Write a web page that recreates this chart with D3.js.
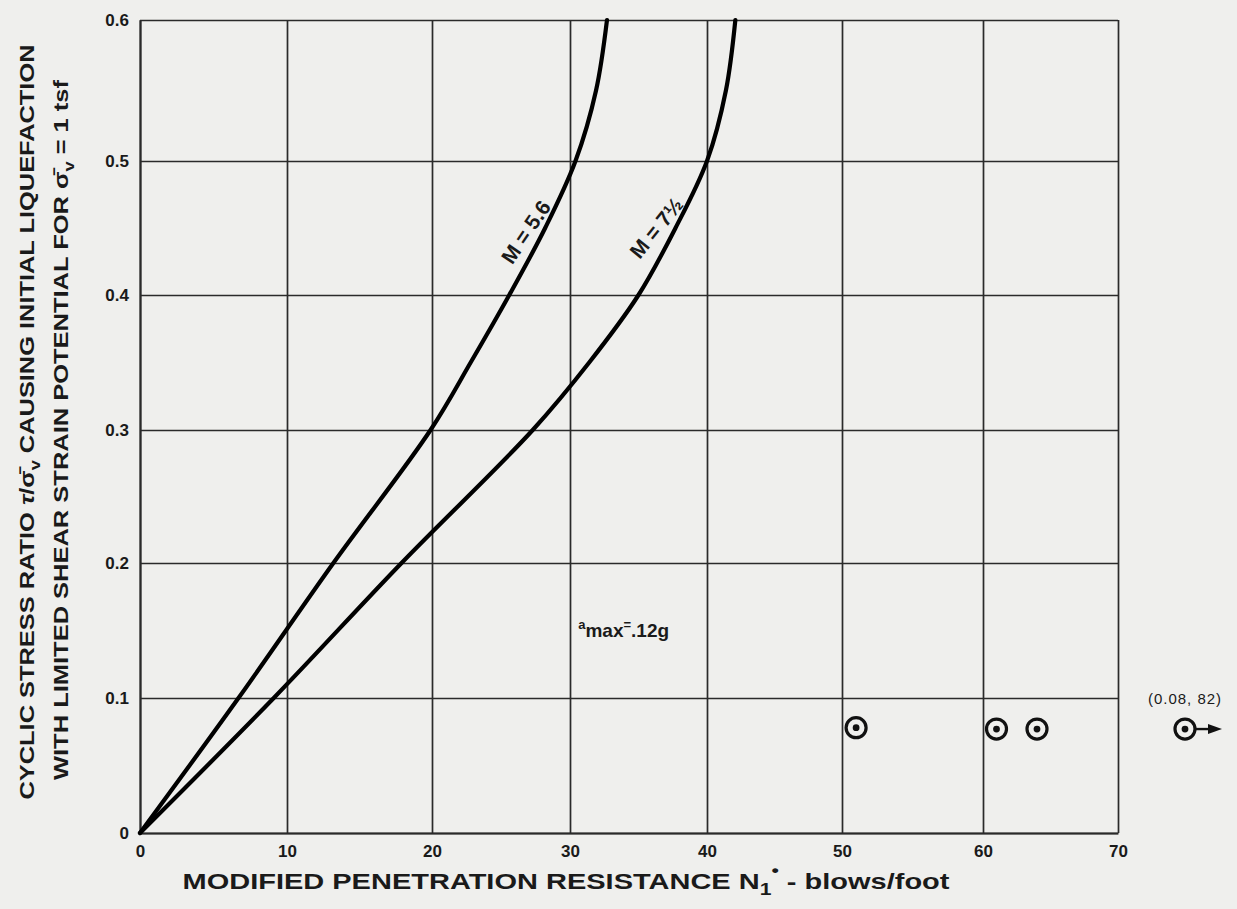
<!DOCTYPE html>
<html><head><meta charset="utf-8">
<script src="https://cdn.jsdelivr.net/npm/d3@7"></script>
<style>
html,body{margin:0;padding:0;background:#efefed;}
svg{display:block;}
text{font-family:"Liberation Sans",Arial,Helvetica,sans-serif;fill:#1a1a1a;}
</style></head>
<body>
<script>
// ---- data ----
const xTicks = [0, 10, 20, 30, 40, 50, 60, 70];
const yTicks = [0, 0.1, 0.2, 0.3, 0.4, 0.5, 0.6];
// curve M = 5.6 : N1 values at given stress ratios
const curveM56N = [0, 6.7, 13.2, 19.9, 22.8, 25.6, 28.2, 30.4, 31.9, 32.7];
const curveM56R = [0, 0.1, 0.2, 0.3, 0.35, 0.4, 0.45, 0.5, 0.55, 0.6];
// curve M = 7 1/2
const curveM75N = [0, 9.1, 17.9, 27.3, 31.4, 35.0, 37.7, 40.0, 41.4, 42.1];
const curveM75R = [0, 0.1, 0.2, 0.3, 0.35, 0.4, 0.45, 0.5, 0.55, 0.6];
// observed points
const pointN = [51, 61, 64];
const pointR = [0.078, 0.077, 0.077];
const offPointN = 82, offPointR = 0.077;
const offPointLabel = "(0.08, 82)";
const curveLabels = ["M = 5.6", "M = 7½"];

// ---- layout ----
const W = 1237, H = 909;
const svg = d3.select("body").append("svg").attr("width", W).attr("height", H);
svg.append("rect").attr("width", W).attr("height", H).attr("fill", "#efefed");

// scanned figure has slightly uneven grid spacing
const x = d3.scaleLinear().domain(xTicks).range([140, 287, 432, 570, 707, 842, 983, 1118]);
const y = d3.scaleLinear().domain(yTicks).range([833, 698, 563, 430, 295, 161, 20]);
const pLeft = x(0), pRight = x(70), pTop = y(0.6), pBottom = y(0);

const gridColor = "#2a2a2a";
// x axis + vertical grid
const gx = svg.append("g").attr("transform", `translate(0,${pBottom})`)
  .call(d3.axisBottom(x).tickValues(xTicks).tickFormat(d3.format("d"))
    .tickSize(-(pBottom - pTop)).tickSizeOuter(0).tickPadding(12));
gx.select(".domain").attr("stroke", gridColor).attr("stroke-width", 2);
gx.selectAll(".tick line").attr("stroke", gridColor).attr("stroke-width", 1.7);
gx.selectAll(".tick text").attr("font-size", 17).attr("fill", "#222").attr("font-weight", "bold");

// y axis + horizontal grid
const gy = svg.append("g").attr("transform", `translate(${pLeft},0)`)
  .call(d3.axisLeft(y).tickValues(yTicks).tickFormat(d => d === 0 ? "0" : d3.format(".1f")(d))
    .tickSize(-(pRight - pLeft)).tickSizeOuter(0).tickPadding(11));
gy.select(".domain").attr("stroke", gridColor).attr("stroke-width", 2);
gy.selectAll(".tick line").attr("stroke", gridColor).attr("stroke-width", 1.7);
gy.selectAll(".tick text").attr("font-size", 17).attr("fill", "#222").attr("font-weight", "bold");

// curves
const line = d3.line().x(d => x(d[0])).y(d => y(d[1])).curve(d3.curveCatmullRom.alpha(0.5));
const c1 = curveM56N.map((n, i) => [n, curveM56R[i]]);
const c2 = curveM75N.map((n, i) => [n, curveM75R[i]]);
[c1, c2].forEach(c => {
  svg.append("path").datum(c).attr("d", line).attr("fill", "none")
    .attr("stroke", "#000").attr("stroke-width", 4.2).attr("stroke-linecap", "round");
});

// curve labels
function labelAt(n, r, txt, ang) {
  svg.append("text")
    .attr("transform", `translate(${x(n)},${y(r)}) rotate(${ang})`)
    .attr("text-anchor", "middle").attr("dy", "0.35em")
    .attr("font-size", 21).attr("font-weight", "bold")
    .text(txt);
}
labelAt(26.8, 0.447, curveLabels[0], -56);
labelAt(36.3, 0.45, curveLabels[1], -51);

// amax annotation
const amax = svg.append("text").attr("x", x(30.6)).attr("y", y(0.145)).attr("font-size", 19).attr("font-weight", "bold");
amax.append("tspan").attr("font-size", 13).attr("dy", -8).text("a");
amax.append("tspan").attr("dy", 8).text("max");
amax.append("tspan").attr("font-size", 13).attr("dy", -8).text("=");
amax.append("tspan").attr("dy", 8).text(".12g");

// points
function marker(cx, cy) {
  svg.append("circle").attr("cx", cx).attr("cy", cy).attr("r", 10)
    .attr("fill", "none").attr("stroke", "#111").attr("stroke-width", 3.2);
  svg.append("circle").attr("cx", cx).attr("cy", cy).attr("r", 3.4).attr("fill", "#111");
}
pointN.forEach((n, i) => marker(x(n), y(pointR[i])));

// off-scale point (N1 = 82) drawn just beyond the right edge with an arrow
const ox = pRight + 67, oy = y(offPointR);
marker(ox, oy);
svg.append("line").attr("x1", ox + 10).attr("y1", oy).attr("x2", ox + 26).attr("y2", oy)
  .attr("stroke", "#111").attr("stroke-width", 2.4);
svg.append("path").attr("d", `M${ox + 37},${oy} L${ox + 23},${oy - 5} L${ox + 23},${oy + 5} Z`).attr("fill", "#111");
svg.append("text").attr("x", ox).attr("y", oy - 25).attr("text-anchor", "middle")
  .attr("font-size", 15).attr("letter-spacing", 1).attr("fill", "#444").text(offPointLabel);

// x axis title
const xt = svg.append("text").attr("x", 566).attr("y", 889).attr("text-anchor", "middle")
  .attr("font-size", 22).attr("font-weight", "bold").attr("fill", "#222")
  .attr("textLength", 767).attr("lengthAdjust", "spacingAndGlyphs");
xt.append("tspan").text("MODIFIED PENETRATION RESISTANCE N");
xt.append("tspan").attr("font-size", 16).attr("dy", 6).text("1");
xt.append("tspan").attr("font-size", 16).attr("dy", -19).text("•");
xt.append("tspan").attr("dy", 13).text(" - blows/foot");

// y axis title (two lines)
const yt1 = svg.append("text").attr("transform", "translate(34,422) rotate(-90)")
  .attr("text-anchor", "middle").attr("font-size", 21).attr("font-weight", "bold").attr("fill", "#222")
  .attr("textLength", 755).attr("lengthAdjust", "spacingAndGlyphs");
yt1.append("tspan").text("CYCLIC STRESS RATIO ");
yt1.append("tspan").attr("font-style", "italic").text("τ");
yt1.append("tspan").text("/σ̄");
yt1.append("tspan").attr("font-size", 15).attr("dy", 6).text("v");
yt1.append("tspan").attr("dy", -6).text(" CAUSING INITIAL LIQUEFACTION");

const yt2 = svg.append("text").attr("transform", "translate(68,430) rotate(-90)")
  .attr("text-anchor", "middle").attr("font-size", 21).attr("font-weight", "bold").attr("fill", "#222")
  .attr("textLength", 700).attr("lengthAdjust", "spacingAndGlyphs");
yt2.append("tspan").text("WITH LIMITED SHEAR STRAIN POTENTIAL FOR σ̄");
yt2.append("tspan").attr("font-size", 15).attr("dy", 6).text("v");
yt2.append("tspan").attr("dy", -6).text(" = 1 tsf");
</script>
</body></html>
